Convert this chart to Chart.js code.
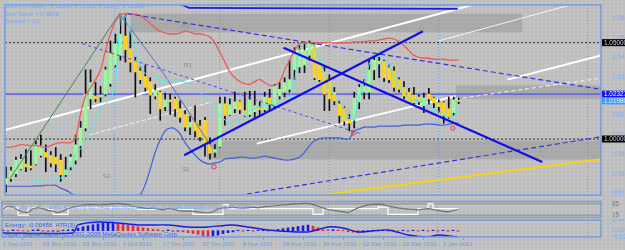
<!DOCTYPE html>
<html><head><meta charset="utf-8">
<script src="https://cdn.jsdelivr.net/npm/chart.js@4.4.1/dist/chart.umd.min.js"></script>
<style>
html,body{margin:0;padding:0;width:625px;height:250px;overflow:hidden;}
body{position:relative;background-color:#bebebe;background-image:radial-gradient(circle,rgba(255,255,255,0.5) 0.45px,transparent 0.8px);background-size:4px 4px;}
canvas{position:absolute;left:0;}
.t{position:absolute;font-family:"Liberation Sans",Arial,sans-serif;font-size:6.2px;color:#6fa8ff;white-space:nowrap;line-height:7px;}
</style></head><body>
<canvas id="cMain" width="625" height="200" style="top:0"></canvas>
<canvas id="cOsc" width="625" height="18" style="top:200px"></canvas>
<canvas id="cHist" width="625" height="32" style="top:218px"></canvas>
<div class="t" style="left:5px;top:2px">USDCAD,Daily&nbsp; 1.01959 1.02122 1.01827 1.01980</div>
<div class="t" style="left:5px;top:9.5px">Tick Value = 0.9808</div>
<div class="t" style="left:5px;top:17px">Spread = 13</div>
<div class="t" style="left:9px;top:202.5px">FX_Sync_TrendAU 47.0678 63.7452 50.3959 63.7303 37.0396 50.0000 RSI(3) 64.4728</div>
<div class="t" style="left:5px;top:221px;color:#3a62e8">Energy: -0.00458&nbsp; ATR(3)</div>
<div class="t" style="left:5px;top:229.5px;color:#3a62e8">Alpari Capital Japan (c) 2001-2009 MetaQuotes Software Corp.</div>
<script>
// ---------- DATA ----------
const opens  = [0.9765,0.9795,0.9820,0.9845,0.9870,0.9860,0.9870,0.9915,0.9930,0.9915,0.9906,0.9890,0.9815,0.9855,0.9890,0.9966,1.0057,1.0208,1.0223,1.0218,1.0233,1.0288,1.0384,1.0434,1.0534,1.0469,1.0409,1.0353,1.0324,1.0298,1.0223,1.0243,1.0168,1.0203,1.0208,1.0157,1.0127,1.0062,1.0087,1.0067,1.0097,0.9971,0.9931,0.9961,1.0183,1.0127,1.0157,1.0193,1.0147,1.0127,1.0142,1.0163,1.0152,1.0213,1.0173,1.0223,1.0243,1.0258,1.0359,1.0374,1.0384,1.0434,1.0489,1.0389,1.0348,1.0308,1.0243,1.0183,1.0157,1.0102,1.0097,1.0193,1.0243,1.0243,1.0359,1.0389,1.0404,1.0369,1.0353,1.0308,1.0268,1.0243,1.0228,1.0218,1.0173,1.0233,1.0213,1.0188,1.0188,1.0157,1.0137,1.01959];
const highs  = [0.9855,0.9855,0.9906,0.9920,0.9945,0.9940,0.9990,1.0021,0.9970,0.9935,0.9956,0.9920,0.9906,0.9920,1.0021,1.0092,1.0359,1.0359,1.0293,1.0273,1.0374,1.0509,1.0544,1.0650,1.0645,1.0560,1.0424,1.0374,1.0384,1.0318,1.0283,1.0248,1.0238,1.0233,1.0218,1.0198,1.0147,1.0117,1.0173,1.0097,1.0112,1.0006,0.9971,1.0218,1.0218,1.0208,1.0243,1.0198,1.0243,1.0248,1.0248,1.0193,1.0243,1.0258,1.0283,1.0293,1.0318,1.0409,1.0474,1.0484,1.0494,1.0509,1.0499,1.0394,1.0374,1.0333,1.0268,1.0198,1.0168,1.0127,1.0243,1.0283,1.0308,1.0409,1.0424,1.0424,1.0409,1.0384,1.0374,1.0318,1.0298,1.0263,1.0268,1.0228,1.0238,1.0263,1.0218,1.0203,1.0193,1.0218,1.0218,1.02122];
const lows   = [0.9725,0.9780,0.9805,0.9840,0.9830,0.9840,0.9865,0.9906,0.9830,0.9855,0.9830,0.9780,0.9805,0.9840,0.9870,0.9906,1.0042,1.0157,1.0193,1.0193,1.0223,1.0273,1.0374,1.0409,1.0399,1.0348,1.0218,1.0288,1.0248,1.0132,1.0208,1.0097,1.0147,1.0127,1.0117,1.0087,1.0042,1.0022,1.0011,0.9990,0.9911,0.9896,0.9906,0.9956,1.0072,1.0122,1.0137,1.0132,1.0117,1.0117,1.0107,1.0122,1.0142,1.0147,1.0162,1.0208,1.0218,1.0243,1.0308,1.0344,1.0344,1.0409,1.0308,1.0298,1.0147,1.0147,1.0177,1.0082,1.0072,1.0042,1.0057,1.0157,1.0208,1.0208,1.0308,1.0318,1.0298,1.0293,1.0248,1.0243,1.0208,1.0183,1.0178,1.0178,1.0137,1.0178,1.0163,1.0137,1.0082,1.0107,1.0122,1.01827];
const closes = [0.9795,0.9835,0.9890,0.9895,0.9855,0.9850,0.9970,0.9965,0.9906,0.9875,0.9870,0.9815,0.9840,0.9906,0.9970,1.0057,1.0233,1.0293,1.0208,1.0228,1.0359,1.0444,1.0494,1.0544,1.0464,1.0399,1.0348,1.0308,1.0268,1.0228,1.0253,1.0157,1.0203,1.0193,1.0157,1.0112,1.0062,1.0087,1.0042,1.0011,0.9971,0.9926,0.9946,1.0183,1.0122,1.0178,1.0193,1.0152,1.0122,1.0203,1.0173,1.0152,1.0218,1.0183,1.0273,1.0258,1.0293,1.0308,1.0444,1.0459,1.0459,1.0499,1.0318,1.0308,1.0233,1.0208,1.0198,1.0122,1.0092,1.0082,1.0213,1.0268,1.0273,1.0359,1.0409,1.0404,1.0318,1.0308,1.0268,1.0258,1.0223,1.0193,1.0188,1.0193,1.0213,1.0208,1.0188,1.0168,1.0122,1.0117,1.0203,1.01980];

// upper red envelope (one value per bar)
const redLine = [0.9956,0.9958,0.9963,0.9971,0.9968,0.9966,0.9966,0.9961,0.9956,0.9966,0.9976,0.9981,0.9981,0.9981,1.0006,1.0132,1.0223,1.0268,1.0308,1.0358,1.0459,1.0545,1.0610,1.0645,1.0650,1.0650,1.0648,1.0640,1.0620,1.0600,1.0575,1.0560,1.0550,1.0545,1.0545,1.0550,1.0560,1.0555,1.0545,1.0545,1.0540,1.0529,1.0499,1.0449,1.0399,1.0348,1.0318,1.0298,1.0288,1.0283,1.0298,1.0308,1.0293,1.0278,1.0278,1.0298,1.0358,1.0409,1.0459,1.0494,1.0499,1.0499,1.0499,1.0499,1.0499,1.0499,1.0499,1.0499,1.0499,1.0499,1.0504,1.0504,1.0504,1.0509,1.0509,1.0514,1.0519,1.0524,1.0519,1.0504,1.0484,1.0459,1.0434,1.0424,1.0419,1.0419,1.0414,1.0414,1.0414,1.0409,1.0409,1.0409];
// cyan trailing band (bar index, price)
const cyanIdx = [5,8,11,13,14,15,16,17,18,19,20,21,22,23,24,25,26,27,28,29,30,31,33,35,37,39,41,43,45,47,49,51,53,55,57,58,59,60,61,62,63,64,65,66,67,68,69,70,71,72,73,74,75,76,77,78,79,80,81,82,83,84,85,86,87,88,89,90,91];
const cyanVal = [0.9780,0.9790,0.9795,0.9860,0.9920,0.9950,0.9985,1.0045,1.0110,1.0160,1.0180,1.0210,1.0270,1.0650,1.0640,1.0560,1.0460,1.0370,1.0340,1.0340,1.0340,1.0300,1.0310,1.0300,1.0290,1.0240,1.0190,1.0120,1.0080,1.0110,1.0150,1.0170,1.0180,1.0180,1.0200,1.0300,1.0470,1.0500,1.0500,1.0480,1.0420,1.0340,1.0260,1.0230,1.0200,1.0160,1.0110,1.0100,1.0220,1.0290,1.0390,1.0430,1.0430,1.0420,1.0380,1.0320,1.0280,1.0240,1.0210,1.0200,1.0200,1.0190,1.0180,1.0150,1.0140,1.0120,1.0110,1.0120,1.0150];
// lower blue band (one value per bar)
const blueBand = [0.9755,0.9755,0.9755,0.9755,0.9755,0.9755,0.9757,0.9757,0.9760,0.9760,0.9760,0.9745,0.9735,0.9720,0.9705,0.9700,0.9700,0.9700,0.9700,0.9700,0.9700,0.9700,0.9700,0.9700,0.9700,0.9700,0.9705,0.9712,0.9765,0.9845,0.9931,0.9996,1.0042,1.0057,1.0052,1.0027,0.9981,0.9946,0.9916,0.9891,0.9876,0.9870,0.9876,0.9881,0.9896,0.9901,0.9901,0.9906,0.9906,0.9901,0.9901,0.9906,0.9911,0.9906,0.9901,0.9896,0.9891,0.9891,0.9896,0.9906,0.9931,0.9966,0.9991,1.0001,1.0006,1.0006,1.0006,1.0006,1.0001,1.0001,1.0042,1.0052,1.0062,1.0062,1.0062,1.0067,1.0067,1.0067,1.0067,1.0067,1.0072,1.0072,1.0072,1.0072,1.0077,1.0077,1.0077,1.0072,1.0072,1.0077,1.0082,1.0082];

// trend / drawing objects: [barIndex, price]
const blueThickA = [[35.8,0.99158],[83.8,1.05596]];
const blueThickB = [[55.8,1.04741],[107.8,0.98806]];
const blueDashC  = [[24.4,1.06501],[119.6,1.02578]];
const blueDashD  = [[15.4,1.04942],[71.4,1.00264]];
const blueDashE  = [[48.4,0.97146],[119.6,1.00113]];
const yellowF    = [[62.6,0.97070],[119.6,0.98956]];
const whiteG     = [[-0.2,1.00465],[94.4,1.07004]];
const whiteH     = [[50.4,0.99761],[90.4,1.02226]];
const whiteThinI = [[90.4,1.02075],[119.6,1.03152]];
const whiteJ     = [[100.8,1.03081],[119.6,1.04338]];
const whiteThinK = [[87.0,1.05093],[114.8,1.07054]];
const whiteThinL = [[16.8,1.00214],[41.4,1.01924]];
const greenZig   = [[0.8,0.97950],[22.8,1.06501]];
const slateFan   = [[22.8,1.06501],[30.8,1.03735],[41.4,0.99560]];
const topBlue    = [[35.0,1.07004],[36.8,1.06803],[90.8,1.06753]];
const hLevels    = [1.05000, 1.00000];
const userLine   = 1.02327;
const bidPrice   = 1.01980;
// shaded zones: [fromBar, toBar, topPrice, bottomPrice]
const zones = [[25.0,103.8,1.06501,1.05546],[40.4,119.6,0.99912,0.98956],[90.4,119.6,1.02779,1.02075]];
const fractalIdx = [41.8,69.8,89.8];
const fractalVal = [0.98555,1.00314,1.00566];
const pivotLabels = [['R2',35.4,1.0586],['R1',35.8,1.0384],['S2',35.4,0.9845],['S3',19.4,0.9805]];
const sepIdx = [21.8,42.8,65.0,86.8,116.8];
const priceTicks = [1.06250,1.05240,1.04240,1.03220,1.02210,1.01210,1.00190,0.99200,0.98180,0.97190];

// oscillator window
const oscGray  = [55,70,65,45,35,30,55,62,55,45,40,30,40,55,65,72,78,80,80,78,80,82,85,88,85,80,72,65,60,55,58,52,48,55,52,45,40,42,38,35,30,28,35,55,60,62,65,60,58,62,65,60,66,70,72,75,78,80,85,86,88,88,80,70,60,50,45,40,35,30,45,60,70,78,82,84,80,72,66,60,55,52,50,48,52,55,50,45,38,35,42,50];
const oscWhite = [60,60,60,15,15,60,60,60,60,50,20,20,20,60,60,60,60,60,60,60,60,60,60,60,60,60,60,50,50,50,50,50,50,50,50,50,50,50,20,20,20,20,20,20,80,55,55,55,55,55,55,55,55,55,55,55,55,55,55,55,55,55,20,20,55,55,55,55,55,55,55,55,55,55,55,65,65,20,20,20,20,20,20,55,55,85,55,55,55,55,55,55];
const oscLevels = [85,15];

// energy histogram window
const histVals = [0.002,-0.002,0.003,0.002,-0.001,-0.002,0.003,0.004,-0.002,-0.003,-0.002,-0.004,0.002,0.003,0.005,
 0.010,0.016,0.020,0.024,0.028,0.032,0.034,0.035,
 0.030,0.026,0.022,0.020,0.016,0.012,0.009,0.006,
 0.004,-0.002,0.003,-0.003,-0.002,
 -0.005,-0.008,-0.011,-0.015,-0.020,
 -0.025,-0.022,-0.018,-0.012,-0.008,-0.005,
 0.002,-0.002,0.002,-0.002,0.002,0.002,-0.002,0.002,
 0.005,0.008,0.011,0.014,0.017,0.020,0.023,
 0.019,0.012,
 0.004,0.003,0.004,0.003,0.002,
 -0.004,-0.006,-0.008,-0.006,-0.004,
 0.002,-0.002,0.002,-0.002,0.002,-0.002,0.002,-0.002,0.002,-0.002,0.002,-0.002,0.002,-0.002,0.002,-0.002,0.002,-0.002];
const histLineIdx = [0,14,15,19,23,27,33,37,41,46,53,61,65,68,71,77,81,85,87,91];
const histLineVal = [-0.0094,-0.0094,0.0234,0.0357,0.0316,0.0234,0.0234,0.0152,0.0152,0.0234,0.0030,-0.0053,0.0152,0.0110,-0.0053,0.0030,-0.0176,-0.0258,-0.0176,-0.0258];
const histTicks = [0.04376,0.00,-0.02598];
const dateIdx = [0,8,16,24,32,40,48,56,64,72,80,88];
const dateLabels = ['1 Sep 2011','13 Sep 2011','23 Sep 2011','5 Oct 2011','17 Oct 2011','27 Oct 2011','8 Nov 2011','18 Nov 2011','30 Nov 2011','12 Dec 2011','22 Dec 2011','3 Jan 2012'];

// ---------- RENDER ----------
const X_MIN = -0.2, X_MAX = 119.6;
const FRAME = '#6c9ee8', TXT = '#76acff', FONT = {family:'Liberation Sans', size:6.4};
const pts = a => a.map(p => ({x:p[0], y:p[1]}));
const seg = (data, color, width, dash, order) => ({type:'line', data:pts(data), borderColor:color, borderWidth:width, borderDash:dash||[], pointRadius:0, fill:false, tension:0, order});
const xScale = extra => Object.assign({type:'linear', min:X_MIN, max:X_MAX, offset:false, display:false}, extra||{});
const noPadY = s => { s.width = 24; s.paddingTop = 0; s.paddingBottom = 0; };

const framePlugin = {
  id:'frame',
  beforeDatasetsDraw(chart){
    const {ctx, chartArea:a, scales:{x}} = chart;
    ctx.save(); ctx.strokeStyle = FRAME; ctx.lineWidth = 1; ctx.setLineDash([1,2]);
    sepIdx.forEach(v => { const px = Math.round(x.getPixelForValue(v)) + 0.5; ctx.beginPath(); ctx.moveTo(px, a.top); ctx.lineTo(px, a.bottom); ctx.stroke(); });
    ctx.restore();
  },
  afterDraw(chart){
    const {ctx, chartArea:a} = chart;
    ctx.save(); ctx.strokeStyle = FRAME; ctx.lineWidth = 1.5;
    ctx.strokeRect(a.left, a.top, a.right - a.left, a.bottom - a.top);
    ctx.restore();
  }
};

const markerPlugin = {
  id:'markers',
  afterDraw(chart){
    const {ctx, scales:{x, y}, chartArea:a} = chart;
    ctx.save();
    ctx.font = '6px "Liberation Sans"'; ctx.fillStyle = '#8a8a8a'; ctx.textBaseline = 'middle';
    pivotLabels.forEach(l => ctx.fillText(l[0], x.getPixelForValue(l[1]), y.getPixelForValue(l[2])));
    ctx.font = '6.4px "Liberation Sans"';
    const boxes = [[1.05000,'#000000','#d8d8d8'],[userLine,'#1414e6','#ffffff'],[bidPrice,'#3c9cff','#e8f0ff'],[1.00000,'#000000','#d8d8d8']];
    boxes.forEach(b => {
      const py = y.getPixelForValue(b[0]);
      ctx.fillStyle = b[1]; ctx.fillRect(a.right + 1, py - 3.5, 24, 7);
      ctx.fillStyle = b[2]; ctx.fillText(b[0].toFixed(5), a.right + 3, py + 0.5);
    });
    ctx.restore();
  }
};

const candleColors = closes.map((c,i) => c >= opens[i] ? '#9cf79c' : '#ffd21a');
const mainDatasets = [];
zones.forEach(z => mainDatasets.push({type:'line', data:[{x:z[0],y:z[2]},{x:z[1],y:z[2]}], borderWidth:0, pointRadius:0, fill:{value:z[3]}, backgroundColor:'rgba(110,110,110,0.28)', order:100}));
hLevels.forEach(v => mainDatasets.push(seg([[X_MIN,v],[X_MAX,v]], '#2a2a2a', 1, [2,2], 90)));
mainDatasets.push(seg([[X_MIN,userLine],[X_MAX,userLine]], '#6a6ae0', 1.6, [], 89));
mainDatasets.push(seg(whiteG, '#ffffff', 2, [], 80));
mainDatasets.push(seg(whiteH, '#ffffff', 2, [], 80));
mainDatasets.push(seg(whiteThinI, '#f4f4f4', 1, [4,3], 80));
mainDatasets.push(seg(whiteJ, '#ffffff', 2, [], 80));
mainDatasets.push(seg(whiteThinK, 'rgba(255,255,255,0.85)', 1, [], 80));
mainDatasets.push(seg(whiteThinL, 'rgba(255,255,255,0.85)', 1, [4,2], 80));
mainDatasets.push({type:'bar', data:highs.map((h,i)=>({x:i, y:[lows[i], h]})), backgroundColor:'#101010', barThickness:1, grouped:false, order:60});
mainDatasets.push({type:'bar', data:opens.map((o,i)=>({x:i, y:[o, closes[i]]})), backgroundColor:candleColors, borderWidth:0, barThickness:3, minBarLength:1, grouped:false, order:55});
mainDatasets.push(seg(greenZig, '#3c8a3c', 1, [], 45));
mainDatasets.push(seg(slateFan, '#5a6ad0', 1, [], 45));
mainDatasets.push({type:'line', data:redLine.map((v,i)=>({x:i,y:v})), borderColor:'#ee5a5a', borderWidth:1.3, pointRadius:0, tension:0.3, fill:false, order:40});
mainDatasets.push({type:'line', data:cyanIdx.map((v,i)=>({x:v,y:cyanVal[i]})), borderColor:'#45eef0', borderWidth:1, pointRadius:0, tension:0, fill:false, order:40});
mainDatasets.push({type:'line', data:blueBand.map((v,i)=>({x:i,y:v})), borderColor:'#3f5fd8', borderWidth:1.2, pointRadius:0, tension:0.3, fill:false, order:40});
mainDatasets.push(seg(topBlue, '#1a1ae0', 1.6, [], 35));
mainDatasets.push(seg(blueThickA, '#1010e6', 2.2, [], 30));
mainDatasets.push(seg(blueThickB, '#1010e6', 2.2, [], 30));
mainDatasets.push(seg(blueDashC, '#3434e0', 1.2, [5,3], 30));
mainDatasets.push(seg(blueDashD, '#4a4ae6', 1, [3,3], 30));
mainDatasets.push(seg(blueDashE, '#3434e0', 1.2, [5,3], 30));
mainDatasets.push(seg(yellowF, '#f2d21a', 2, [], 30));
mainDatasets.push({type:'scatter', data:fractalIdx.map((v,i)=>({x:v,y:fractalVal[i]})), pointStyle:'circle', pointRadius:2.2, borderColor:'#e04040', borderWidth:1, backgroundColor:'rgba(0,0,0,0)', order:20});

const commonOpts = (extra) => Object.assign({
  responsive:false, animation:false, devicePixelRatio:1,
  plugins:{legend:{display:false}, tooltip:{enabled:false}}
}, extra);

new Chart(document.getElementById('cMain'), {
  data:{datasets:mainDatasets},
  options: commonOpts({
    layout:{padding:{left:2, top:3, right:0, bottom:1}},
    scales:{
      x:xScale(),
      y:{type:'linear', position:'right', min:0.97095, max:1.06954,
         afterBuildTicks(s){ s.ticks = priceTicks.map(v=>({value:v})); },
         afterFit:noPadY,
         grid:{display:false}, border:{display:false},
         ticks:{color:TXT, font:FONT, padding:3, autoSkip:false, callback:v=>v.toFixed(5)}}
    }
  }),
  plugins:[framePlugin, markerPlugin]
});

new Chart(document.getElementById('cOsc'), {
  data:{datasets:[
    ...oscLevels.map(v => seg([[X_MIN,v],[X_MAX,v]], '#8c8c8c', 1, [], 50)),
    {type:'line', data:oscWhite.map((v,i)=>({x:i,y:v})), borderColor:'#ffffff', borderWidth:1.2, pointRadius:0, stepped:true, fill:false, order:20},
    {type:'line', data:oscGray.map((v,i)=>({x:i,y:v})), borderColor:'#707070', borderWidth:1.2, pointRadius:0, tension:0, fill:false, order:10}
  ]},
  options: commonOpts({
    layout:{padding:{left:2, top:1.5, right:0, bottom:0.5}},
    scales:{
      x:xScale(),
      y:{type:'linear', position:'right', min:0, max:100,
         afterBuildTicks(s){ s.ticks = oscLevels.map(v=>({value:v})); },
         afterFit:noPadY,
         grid:{display:false}, border:{display:false},
         ticks:{color:'#7a7a7a', font:FONT, padding:3, autoSkip:false}}
    }
  }),
  plugins:[framePlugin]
});

new Chart(document.getElementById('cHist'), {
  data:{datasets:[
    {type:'bar', data:histVals.map((v,i)=>({x:i,y:v})), backgroundColor:histVals.map((v,i)=> i===0 || v>=histVals[i-1] ? '#1a1ae6' : '#e8283c'), barThickness:2, grouped:false, order:20},
    {type:'line', data:histLineIdx.map((v,i)=>({x:v,y:histLineVal[i]})), borderColor:'#1a1ae6', borderWidth:1.4, pointRadius:0, tension:0.2, fill:false, order:10}
  ]},
  options: commonOpts({
    layout:{padding:{left:2, top:2, right:0, bottom:0}},
    scales:{
      x:xScale({display:true, position:'bottom',
         afterBuildTicks(s){ s.ticks = dateIdx.map(v=>({value:v})); },
         afterFit(s){ s.height = 13; s.paddingLeft = 0; s.paddingRight = 0; },
         grid:{display:true, drawOnChartArea:false, drawTicks:true, tickLength:3, color:FRAME},
         border:{display:false},
         ticks:{color:'#5f9cf2', font:{family:'Liberation Sans', size:6}, padding:1, align:'start', maxRotation:0, minRotation:0, autoSkip:false,
                callback:(v,i)=>dateLabels[i]}}),
      y:{type:'linear', position:'right', min:-0.02598, max:0.04376,
         afterBuildTicks(s){ s.ticks = histTicks.map(v=>({value:v})); },
         afterFit:noPadY,
         grid:{display:false}, border:{display:false},
         ticks:{color:TXT, font:FONT, padding:3, autoSkip:false, callback:v=> v===0 ? '0.00' : v.toFixed(5)}}
    }
  }),
  plugins:[framePlugin]
});
</script>
</body></html>
